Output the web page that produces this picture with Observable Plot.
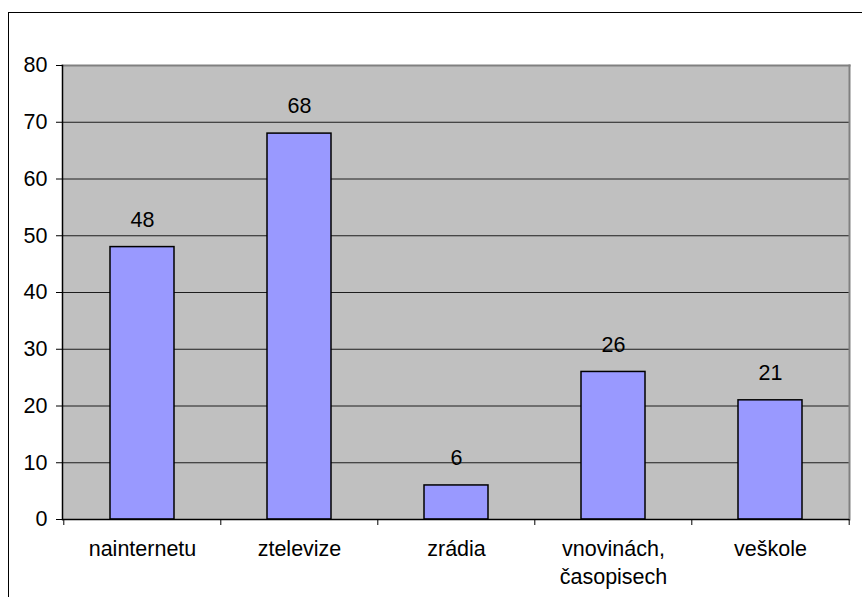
<!DOCTYPE html>
<html>
<head>
<meta charset="utf-8">
<script src="https://cdn.jsdelivr.net/npm/d3@7"></script>
<script src="https://cdn.jsdelivr.net/npm/@observablehq/plot@0.6"></script>
<style>
  html, body { margin: 0; padding: 0; background: #fff; }
  #wrap { position: relative; width: 862px; height: 597px; overflow: hidden; }
  #border { position: absolute; left: 8px; top: 12px; width: 900px; height: 700px; border: 1px solid #000; box-sizing: border-box; pointer-events: none; }
  svg { font-family: "Liberation Sans", Arial, sans-serif; }
</style>
</head>
<body>
<div id="wrap"><div id="border"></div></div>
<script>
const categories = ["nainternetu", "ztelevize", "zrádia", "vnovinách, časopisech", "veškole"];
const values = [48, 68, 6, 26, 21];
const yTicks = [0, 10, 20, 30, 40, 50, 60, 70, 80];

const data = categories.map((c, i) => ({category: c, value: values[i]}));
const labelFormat = d => d === "vnovinách, časopisech" ? "vnovinách,\nčasopisech" : d;

const W = 862, H = 597;
const mL = 62, mR = 13, mT = 65, mB = 78;
const step = (W - mL - mR) / categories.length;

const chart = Plot.plot({
  width: W,
  height: H,
  marginLeft: mL,
  marginRight: mR,
  marginTop: mT,
  marginBottom: mB,
  style: {fontFamily: "'Liberation Sans', Arial, sans-serif", fontSize: "21.5px", color: "#000", background: "transparent"},
  x: {domain: categories, paddingInner: 0.593, paddingOuter: 0.2965, label: null},
  y: {domain: [0, 80], ticks: yTicks, label: null},
  marks: [
    Plot.frame({fill: "#C0C0C0", stroke: null}),
    Plot.gridY(yTicks, {stroke: "#000", strokeOpacity: 0.85, strokeWidth: 1}),
    Plot.frame({anchor: "top", stroke: "#808080", strokeWidth: 2}),
    Plot.frame({anchor: "right", stroke: "#808080", strokeWidth: 2}),
    Plot.barY(data, {x: "category", y: "value", fill: "#9999FF", stroke: "#000", strokeWidth: 1.5}),
    Plot.text(data, {x: "category", y: "value", text: d => String(d.value), dy: -27, fontSize: 21.5, fill: "#000"}),
    Plot.ruleY([0], {stroke: "#000", strokeWidth: 1.5}),
    Plot.frame({anchor: "left", stroke: "#000", strokeWidth: 1.5}),
    Plot.axisY({ticks: yTicks, tickSize: 6, tickPadding: 9, fontSize: 21.5, stroke: "#000", strokeOpacity: 1}),
    Plot.axisX(categories, {tickSize: 6, dx: -step / 2, text: null, stroke: "#000", strokeOpacity: 1}),
    Plot.axisX([categories[categories.length - 1]], {tickSize: 6, dx: step / 2, text: null, stroke: "#000", strokeOpacity: 1}),
    Plot.axisX(categories, {tickSize: 0, tickPadding: 17, fontSize: 21.5, tickFormat: labelFormat, lineHeight: 1.3, fill: "#000"})
  ]
});
document.getElementById("wrap").prepend(chart);
</script>
</body>
</html>
